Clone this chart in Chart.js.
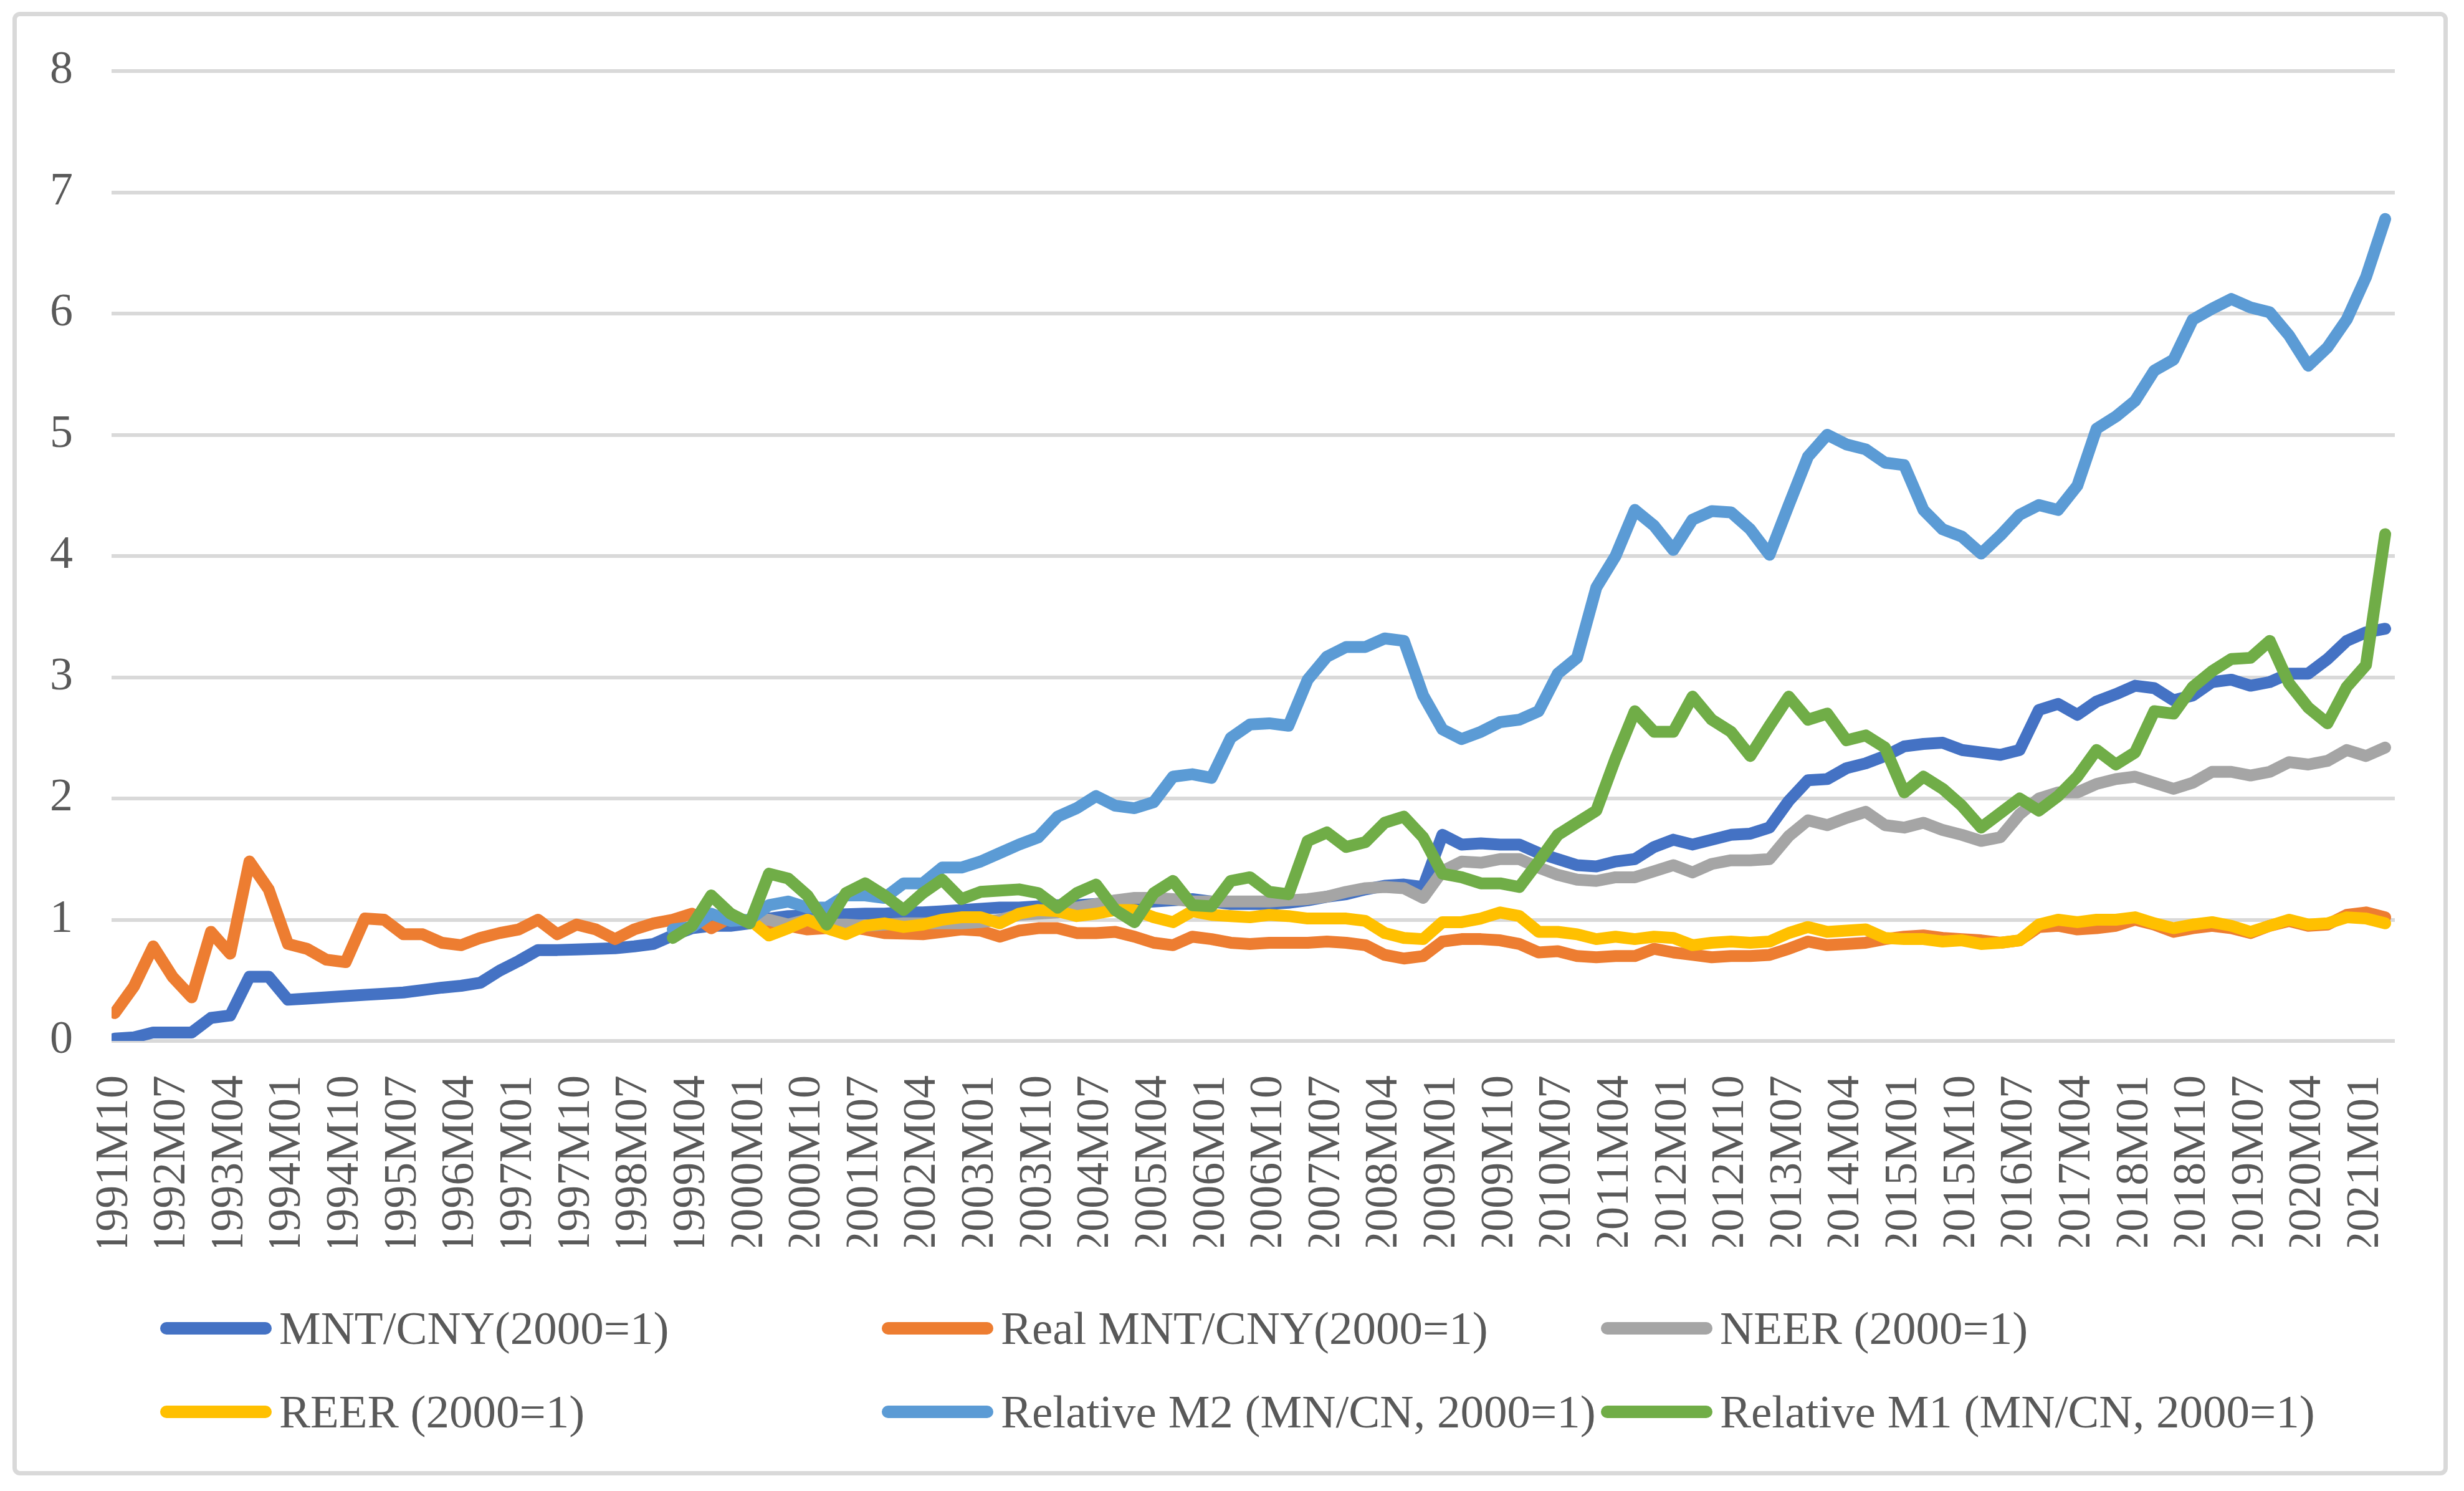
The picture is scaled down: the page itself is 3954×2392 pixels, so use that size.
<!DOCTYPE html>
<html>
<head>
<meta charset="utf-8">
<script src="https://cdn.jsdelivr.net/npm/chart.js@4.4.0/dist/chart.umd.min.js"></script>
<style>
    html, body { margin: 0; padding: 0; background: #fff; }
    #wrap { position: absolute; left: 0; top: 0; width: 3954px; height: 2392px; }
    #frame { position: absolute; left: 20px; top: 19px; width: 3908px; height: 2348px;
             border: 7px solid #d9d9d9; border-radius: 12px; box-sizing: border-box; }
    .item { position: absolute; height: 80px; display: flex; align-items: center; white-space: nowrap;
            font: 75px 'Liberation Serif', 'Times New Roman', serif; color: #595959; }
    .mark { display: inline-block; width: 179px; height: 20px; border-radius: 10px; margin-right: 12px; }
</style>
</head>
<body>
<div id="frame"></div>
<div id="wrap"><canvas id="chart"></canvas></div>
<div id="legend"></div>
<script>
// monthly series, one value every 3 months, month 0 = 1991M10
const tickLabels = ['1991M10','1992M07','1993M04','1994M01','1994M10','1995M07','1996M04','1997M01',
    '1997M10','1998M07','1999M04','2000M01','2000M10','2001M07','2002M04','2003M01','2003M10','2004M07',
    '2005M04','2006M01','2006M10','2007M07','2008M04','2009M01','2009M10','2010M07','2011M04','2012M01',
    '2012M10','2013M07','2014M04','2015M01','2015M10','2016M07','2017M04','2018M01','2018M10','2019M07',
    '2020M04','2021M01']

const seriesNames = ['MNT/CNY(2000=1)', 'Real MNT/CNY(2000=1)', 'NEER (2000=1)',
    'REER (2000=1)', 'Relative M2 (MN/CN, 2000=1)', 'Relative M1 (MN/CN, 2000=1)']
const seriesColors = ['#4472C4', '#ED7D31', '#A5A5A5', '#FFC000', '#5B9BD5', '#70AD47']
const seriesStart = [0, 0, 99, 99, 87, 87]

const mntCny = [0.02,0.03,0.07,0.07,0.07,0.19,0.21,0.53,0.53,0.34,
    0.35,0.36,0.37,0.38,0.39,0.40,0.42,0.44,0.455,0.48,
    0.58,0.66,0.75,0.75,0.755,0.76,0.765,0.78,0.80,0.87,
    0.93,0.95,0.95,0.97,1.01,1.03,1.035,1.04,1.045,1.05,
    1.05,1.06,1.06,1.07,1.08,1.09,1.10,1.10,1.11,1.12,
    1.12,1.13,1.14,1.14,1.15,1.16,1.17,1.15,1.13,1.13,
    1.13,1.14,1.16,1.19,1.21,1.25,1.28,1.29,1.27,1.70,
    1.62,1.63,1.62,1.62,1.55,1.50,1.45,1.44,1.48,1.50,
    1.60,1.66,1.62,1.66,1.70,1.71,1.76,1.98,2.15,2.16,
    2.25,2.29,2.35,2.43,2.45,2.46,2.40,2.38,2.36,2.40,
    2.73,2.78,2.69,2.80,2.86,2.93,2.91,2.81,2.85,2.96,
    2.98,2.93,2.96,3.03,3.03,3.15,3.30,3.37,3.40]

const realMntCny = [0.23,0.45,0.78,0.53,0.36,0.90,0.72,1.48,1.25,0.80,
    0.76,0.67,0.65,1.01,1.00,0.88,0.88,0.81,0.79,0.85,
    0.89,0.92,1.00,0.88,0.96,0.92,0.84,0.92,0.97,1.00,
    1.05,0.93,1.02,0.98,0.96,0.95,0.92,0.93,0.94,0.92,
    0.89,0.885,0.88,0.90,0.92,0.91,0.86,0.91,0.93,0.93,
    0.89,0.89,0.90,0.86,0.81,0.79,0.86,0.84,0.81,0.80,
    0.81,0.81,0.81,0.82,0.81,0.79,0.71,0.68,0.70,0.82,
    0.84,0.84,0.83,0.80,0.73,0.74,0.70,0.69,0.70,0.70,
    0.76,0.73,0.71,0.69,0.70,0.70,0.71,0.76,0.82,0.79,
    0.80,0.81,0.84,0.86,0.87,0.85,0.84,0.83,0.81,0.83,
    0.94,0.95,0.92,0.93,0.95,1.00,0.96,0.90,0.93,0.95,
    0.93,0.89,0.95,0.99,0.95,0.96,1.04,1.06,1.02]

const neer = [1.00,1.00,0.96,1.00,0.96,0.96,0.95,
    0.96,0.97,0.97,0.97,0.97,0.98,1.00,1.04,1.05,1.06,
    1.10,1.13,1.16,1.18,1.18,1.17,1.15,1.15,1.15,1.15,
    1.15,1.16,1.17,1.19,1.23,1.26,1.27,1.26,1.18,1.40,
    1.48,1.47,1.50,1.50,1.43,1.37,1.33,1.32,1.35,1.35,
    1.40,1.45,1.39,1.46,1.49,1.49,1.50,1.69,1.82,1.78,
    1.84,1.89,1.78,1.76,1.80,1.74,1.70,1.65,1.68,1.87,
    2.00,2.05,2.05,2.12,2.16,2.18,2.13,2.08,2.13,2.22,
    2.22,2.19,2.22,2.30,2.28,2.31,2.40,2.35,2.42]

const reer = [1.00,0.87,0.93,1.00,0.93,0.88,0.95,
    0.97,0.94,0.96,1.00,1.02,1.02,0.97,1.05,1.08,1.07,
    1.03,1.05,1.08,1.08,1.02,0.98,1.07,1.04,1.03,1.02,
    1.04,1.03,1.01,1.01,1.01,0.99,0.89,0.85,0.84,0.98,
    0.98,1.01,1.06,1.03,0.90,0.90,0.88,0.84,0.86,0.84,
    0.86,0.85,0.79,0.81,0.82,0.81,0.82,0.89,0.94,0.90,
    0.91,0.92,0.85,0.84,0.84,0.82,0.83,0.80,0.81,0.83,
    0.96,1.00,0.98,1.00,1.00,1.02,0.97,0.93,0.96,0.98,
    0.95,0.90,0.95,1.00,0.96,0.97,1.02,1.01,0.97]

const relM2 = [0.92,0.94,1.05,0.99,1.00,1.12,1.15,1.10,1.10,1.20,1.20,
    1.18,1.30,1.30,1.43,1.43,1.48,1.55,1.62,1.68,1.85,
    1.92,2.02,1.94,1.92,1.97,2.18,2.20,2.17,2.50,2.61,
    2.62,2.60,2.98,3.17,3.25,3.25,3.32,3.30,2.85,2.57,
    2.49,2.55,2.63,2.65,2.72,3.03,3.16,3.74,4.00,4.38,
    4.25,4.05,4.30,4.37,4.36,4.22,4.01,4.42,4.82,5.00,
    4.92,4.88,4.77,4.75,4.38,4.22,4.16,4.02,4.17,4.34,
    4.42,4.38,4.58,5.05,5.15,5.28,5.53,5.62,5.95,6.04,
    6.12,6.05,6.01,5.82,5.57,5.72,5.95,6.30,6.78]

const relM1 = [0.85,0.95,1.20,1.05,0.97,1.38,1.34,1.20,0.96,1.22,1.30,
    1.20,1.08,1.22,1.33,1.17,1.23,1.24,1.25,1.22,1.10,
    1.22,1.29,1.08,0.98,1.22,1.32,1.12,1.11,1.32,1.35,
    1.23,1.21,1.65,1.72,1.60,1.64,1.80,1.85,1.68,1.38,
    1.35,1.30,1.30,1.27,1.48,1.70,1.80,1.90,2.33,2.72,
    2.55,2.55,2.84,2.65,2.55,2.35,2.60,2.84,2.65,2.70,
    2.48,2.52,2.42,2.05,2.18,2.08,1.94,1.76,1.88,2.00,
    1.90,2.02,2.18,2.40,2.28,2.38,2.72,2.70,2.92,3.05,
    3.15,3.16,3.30,2.95,2.75,2.62,2.92,3.10,4.18]

const seriesValues = [mntCny, realMntCny, neer, reer, relM2, relM1]

function toPoints(start, values) {
    return values.map((v, i) => ({ x: start + i * 3, y: v }))
}

Chart.defaults.font.family = "'Liberation Serif', 'Times New Roman', serif"
Chart.defaults.color = '#595959'

let datasets = []
for (let i = 0; i < seriesNames.length; i++) {
    datasets.push({
        label: seriesNames[i],
        data: toPoints(seriesStart[i], seriesValues[i]),
        borderColor: seriesColors[i],
        backgroundColor: seriesColors[i],
        order: seriesNames.length - i
    })
}

let ctx = document.getElementById('chart').getContext('2d')
new Chart(ctx, {
    type: 'line',
    data: { datasets: datasets },
    options: {
        animation: false,
        responsive: true,
        maintainAspectRatio: false,
        devicePixelRatio: 1,
        layout: { padding: { left: 0, top: 114, right: 111, bottom: 392 } },
        plugins: { legend: { display: false }, tooltip: { enabled: false } },
        elements: {
            point: { radius: 0 },
            line: { tension: 0, borderWidth: 19, borderJoinStyle: 'round', borderCapStyle: 'round' }
        },
        scales: {
            x: {
                type: 'linear', min: -0.5, max: 355.5,
                grid: { display: false }, border: { display: false },
                afterBuildTicks: s => { s.ticks = tickLabels.map((t, i) => ({ value: i * 9 })) },
                afterFit: s => { s.height = 330 },
                ticks: {
                    autoSkip: false, minRotation: 90, maxRotation: 90, padding: 47,
                    font: { size: 74 },
                    callback: v => tickLabels[Math.round(v / 9)]
                }
            },
            y: {
                min: 0, max: 8,
                afterFit: s => { s.width = 179 },
                ticks: { stepSize: 1, padding: 62, font: { size: 74 } },
                grid: { color: '#d9d9d9', lineWidth: 6, drawTicks: false },
                border: { display: false }
            }
        }
    }
})

// legend laid out like the Excel grid: 3 columns, 2 rows
const legendCols = [257, 1415, 2569]
const legendRows = [2131, 2265]
let legend = document.getElementById('legend')
seriesNames.forEach((name, i) => {
    let item = document.createElement('div')
    item.className = 'item'
    item.style.left = legendCols[i % 3] + 'px'
    item.style.top = (legendRows[Math.floor(i / 3)] - 40) + 'px'
    let mark = document.createElement('span')
    mark.className = 'mark'
    mark.style.background = seriesColors[i]
    item.appendChild(mark)
    item.appendChild(document.createTextNode(name))
    legend.appendChild(item)
})
</script>
</body>
</html>
